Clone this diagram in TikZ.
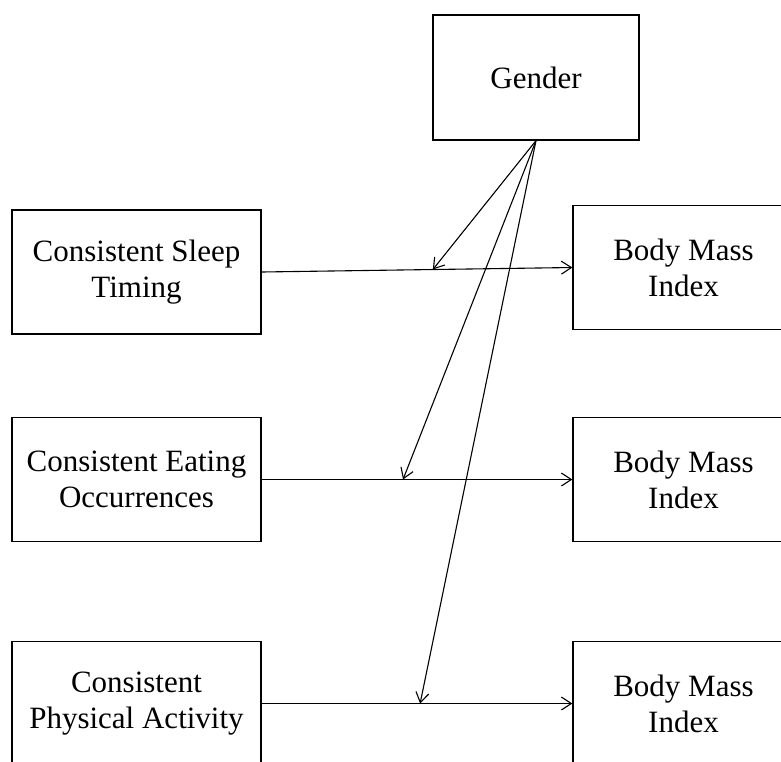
\documentclass[tikz,border=0pt]{standalone}
\usepackage{fontspec}
\setmainfont{Liberation Serif}
\usetikzlibrary{arrows.meta,calc}
\begin{document}
\begin{tikzpicture}[x=1pt,y=-1pt,
  box/.style={draw,line width=1.3pt,align=center,inner sep=0pt,
    font=\fontsize{31}{36}\selectfont},
  lbox/.style={box,minimum width=249pt,minimum height=124pt},
  rbox/.style={box,minimum width=221pt,minimum height=124pt},
  conn/.style={line width=1.1pt,-{Straight Barb[length=10pt,width=13pt]}}]
\clip (0,0) rectangle (781,761);
\fill[white] (0,0) rectangle (781,761);
% boxes
\node[box,minimum width=206pt,minimum height=125pt] (gender) at (536,77.5) {Gender};
\node[lbox] (sleep) at (136.5,272) {Consistent Sleep\\Timing};
\node[rbox] (bmi1) at (683.5,267.5) {Body Mass\\Index};
\node[lbox] (eat) at (136.5,479.5) {Consistent Eating\\Occurrences};
\node[rbox] (bmi2) at (683.5,479.5) {Body Mass\\Index};
\node[lbox] (phys) at (136.5,703.5) {Consistent\\Physical Activity};
\node[rbox] (bmi3) at (683.5,703.5) {Body Mass\\Index};
% main paths
\draw[conn] (sleep.east) -- (bmi1.west);
\draw[conn] (eat.east) -- (bmi2.west);
\draw[conn] (phys.east) -- (bmi3.west);
% moderation points
\coordinate (m1) at ($(sleep.east)!0.551!(bmi1.west)$);
\coordinate (m2) at ($(eat.east)!0.455!(bmi2.west)$);
\coordinate (m3) at ($(phys.east)!0.51!(bmi3.west)$);
\draw[conn] (gender.south) -- (m1);
\draw[conn] (gender.south) -- (m2);
\draw[conn] (gender.south) -- (m3);
\end{tikzpicture}
\end{document}
